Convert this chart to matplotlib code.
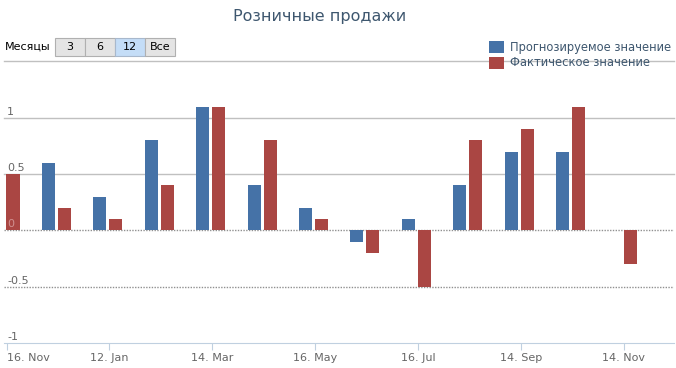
import matplotlib
matplotlib.use("Agg")
import matplotlib.pyplot as plt
from matplotlib.patches import Rectangle
import numpy as np

plt.rcParams['font.family'] = ['DejaVu Sans']

# ---- data ----
months = ["Nov", "Dec", "Jan", "Feb", "Mar", "Apr", "May", "Jun",
          "Jul", "Aug", "Sep", "Oct", "Nov"]
forecast = [np.nan, 0.6, 0.3, 0.8, 1.1, 0.4, 0.2, -0.1, 0.1, 0.4, 0.7, 0.7, np.nan]
actual = [0.5, 0.2, 0.1, 0.4, 1.1, 0.8, 0.1, -0.2, -0.5, 0.8, 0.9, 1.1, -0.3]
tick_idx = [0, 2, 4, 6, 8, 10, 12]
tick_labels = ["16. Nov", "12. Jan", "14. Mar", "16. May", "16. Jul", "14. Sep", "14. Nov"]
y_ticks = [-1, -0.5, 0, 0.5, 1, 1.5]
y_labels = {-1: "-1", -0.5: "-0.5", 0: "0", 0.5: "0.5", 1: "1"}
series_names = ["Прогнозируемое значение", "Фактическое значение"]
title = "Розничные продажи"
range_label = "Месяцы"
range_buttons = ["3", "6", "12", "Все"]

BLUE = "#4572A7"
RED = "#AA4643"
TXT = "#3E576F"

W, H = 676, 368
fig = plt.figure(figsize=(W / 100, H / 100), dpi=100)

# plot area in pixels
L, R, T, B = 4, 674, 61.5, 343
ax = fig.add_axes([L / W, 1 - B / H, (R - L) / W, (B - T) / H])
ax.set_ylim(-1, 1.5)
ax.set_xlim(-0.049, 12.98)

x = np.arange(len(months))
bw = 0.253
ax.bar(x - 0.185, forecast, width=bw, color=BLUE, linewidth=0, zorder=3)
ax.bar(x + 0.126, actual, width=bw, color=RED, linewidth=0, zorder=3)

# grid lines
for v in y_ticks:
    if v > 0:
        ax.axhline(v, color="#C0C0C0", lw=1, zorder=1, clip_on=False)
    elif v > -1:
        ax.axhline(v, color="#909090", lw=1, ls=(0, (1, 1)), zorder=1)
for v, s in y_labels.items():
    ax.annotate(s, xy=(0, v), xycoords=ax.get_yaxis_transform(),
                xytext=(3, 1), textcoords="offset pixels",
                ha="left", va="bottom", fontsize=8,
                color="#D09090" if v == 0 else "#666666", zorder=5)

for sp in ["top", "right", "left"]:
    ax.spines[sp].set_visible(False)
ax.spines["bottom"].set_color("#C0D0E0")
ax.spines["bottom"].set_zorder(4)
ax.set_yticks([])
ax.set_xticks(tick_idx)
ax.set_xticklabels(tick_labels, fontsize=8, color="#666666")
ax.tick_params(axis="x", length=5, color="#C0D0E0", pad=2)
ax.get_xticklabels()[0].set_horizontalalignment("left")
ax.patch.set_alpha(0)

# overlay in pixel coordinates
ov = fig.add_axes([0, 0, 1, 1], zorder=5)
ov.set_xlim(0, W)
ov.set_ylim(H, 0)
ov.axis("off")
ov.patch.set_alpha(0)

ov.text(320, 17, title, ha="center", va="center", fontsize=11.5, color=TXT)

ov.text(5, 47, range_label, ha="left", va="center", fontsize=8, color="black")
bx = [55, 85, 115, 145, 175]
for i, lab in enumerate(range_buttons):
    sel = lab == "12"
    ov.add_patch(Rectangle((bx[i], 38), bx[i + 1] - bx[i], 18,
                           facecolor="#C4DDF7" if sel else "#E4E4E4",
                           edgecolor="#A8B8CC" if sel else "#B0B0B0", lw=0.8))
    ov.text((bx[i] + bx[i + 1]) / 2, 47.5, lab, ha="center", va="center",
            fontsize=8, color="black")

for i, (name, col) in enumerate(zip(series_names, [BLUE, RED])):
    y0 = 41 + i * 16
    ov.add_patch(Rectangle((489, y0), 15, 12, facecolor=col, edgecolor="none"))
    ov.text(510, y0 + 6, name, ha="left", va="center", fontsize=8.3, color=TXT)

fig.savefig("out.png", dpi=100)
